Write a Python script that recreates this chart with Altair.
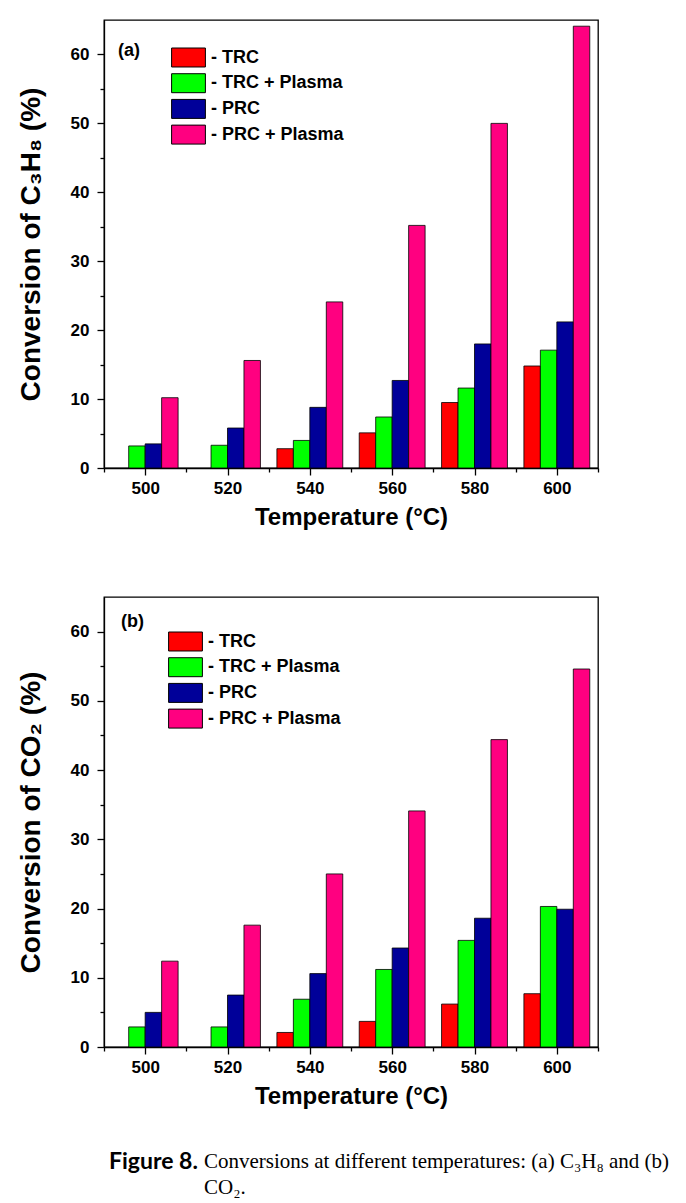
import altair as alt
import pandas as pd

temps = [500, 520, 540, 560, 580, 600]
series = ["TRC", "TRC + Plasma", "PRC", "PRC + Plasma"]
colors = ["#FF0000", "#00FF00", "#000099", "#FF0080"]

# (a) conversion of C3H8 (%)
c3h8_trc = [None, None, 2.8, 5.1, 9.5, 14.8]
c3h8_trc_plasma = [3.2, 3.3, 4.0, 7.4, 11.6, 17.1]
c3h8_prc = [3.5, 5.8, 8.8, 12.7, 18.0, 21.2]
c3h8_prc_plasma = [10.2, 15.6, 24.1, 35.2, 50.0, 64.1]

# (b) conversion of CO2 (%)
co2_trc = [None, None, 2.1, 3.7, 6.2, 7.7]
co2_trc_plasma = [2.9, 2.9, 6.9, 11.2, 15.4, 20.3]
co2_prc = [5.0, 7.5, 10.6, 14.3, 18.6, 19.9]
co2_prc_plasma = [12.4, 17.6, 25.0, 34.1, 44.4, 54.6]

y_ticks = [0, 5, 10, 15, 20, 25, 30, 35, 40, 45, 50, 55, 60]
x_ticks = [490, 500, 510, 520, 530, 540, 550, 560, 570, 580, 590, 600, 610]

caption_bold = "Figure 8."
caption_line1 = "Conversions at different temperatures: (a) C\u2083H\u2088 and (b)"
caption_line2 = "CO\u2082."

FONT = "Liberation Sans"


def make_df(cols):
    rows = []
    for s, vals in zip(series, cols):
        for t, v in zip(temps, vals):
            if v is not None:
                rows.append({"temp": t, "series": s, "value": v})
    return pd.DataFrame(rows)


df_a = make_df([c3h8_trc, c3h8_trc_plasma, c3h8_prc, c3h8_prc_plasma])
df_b = make_df([co2_trc, co2_trc_plasma, co2_prc, co2_prc_plasma])
temp_df = pd.DataFrame({"temp": temps})


def panel(df, ytitle, tag, tag_x, tag_y, leg_x, leg_y, height, caption=False):
    bars = alt.Chart(df).mark_bar(stroke="black", strokeWidth=0.8).encode(
        x=alt.X("temp:N", scale=alt.Scale(paddingInner=0, paddingOuter=0), axis=None),
        xOffset=alt.XOffset("series:N", sort=series,
                            scale=alt.Scale(domain=series, paddingInner=0, paddingOuter=0.5)),
        y=alt.Y("value:Q", scale=alt.Scale(domain=[0, 65], nice=False),
                axis=alt.Axis(values=y_ticks,
                              labelExpr="datum.value % 10 === 0 ? datum.label : ''",
                              tickSize=alt.condition("datum.value % 10 === 0", alt.value(7), alt.value(4)),
                              grid=False, title=ytitle, titlePadding=25, labelPadding=8,
                              titleFontSize=28)),
        color=alt.Color("series:N", sort=series,
                        scale=alt.Scale(domain=series, range=colors),
                        legend=alt.Legend(title=None, orient="none", legendX=leg_x, legendY=leg_y,
                                          symbolType="M-1.3,-0.73H1.3V0.73H-1.3Z", symbolSize=676,
                                          symbolStrokeColor="black", symbolStrokeWidth=1,
                                          symbolOpacity=1,
                                          labelFont=FONT, labelFontWeight="bold", labelFontSize=18,
                                          labelColor="black", labelExpr="'- ' + datum.label",
                                          labelOffset=9, rowPadding=0.7, padding=0)),
    )
    axis_layer = alt.Chart(temp_df).mark_point(opacity=0).encode(
        x=alt.X("temp:Q", scale=alt.Scale(domain=[490, 610], nice=False, zero=False),
                axis=alt.Axis(values=x_ticks, orient="bottom", grid=False,
                              labelExpr="datum.value % 20 === 0 ? datum.label : ''",
                              tickSize=alt.condition("datum.value % 20 === 0", alt.value(7), alt.value(4)),
                              title="Temperature (\u00b0C)", labelPadding=5, titlePadding=9,
                              titleFontSize=24)),
        y=alt.value(0),
    )
    tag_text = alt.Chart(pd.DataFrame({"t": [tag]})).mark_text(
        font=FONT, fontWeight="bold", fontSize=18, align="left", baseline="middle", color="black"
    ).encode(text="t:N", x=alt.value(tag_x), y=alt.value(tag_y))
    layers = [bars, axis_layer, tag_text]
    if caption:
        cap_bold = alt.Chart(pd.DataFrame({"t": [caption_bold]})).mark_text(
            font="Lato", fontWeight="bold", fontSize=23, align="left", baseline="middle", color="black"
        ).encode(text="t:N", x=alt.value(5), y=alt.value(height + 115))
        cap1 = alt.Chart(pd.DataFrame({"t": [caption_line1]})).mark_text(
            font="Liberation Serif", fontSize=21, align="left", baseline="middle", color="black"
        ).encode(text="t:N", x=alt.value(100), y=alt.value(height + 115))
        cap2 = alt.Chart(pd.DataFrame({"t": [caption_line2]})).mark_text(
            font="Liberation Serif", fontSize=21, align="left", baseline="middle", color="black"
        ).encode(text="t:N", x=alt.value(100), y=alt.value(height + 141))
        layers += [cap_bold, cap1, cap2]
    return alt.layer(*layers).resolve_scale(x="independent").properties(width=494, height=height)


pa = panel(df_a, "Conversion of C\u2083H\u2088 (%)", "(a)", 14, 31, 71, 24, 448)
pb = panel(df_b, "Conversion of CO\u2082 (%)", "(b)", 17, 25, 68, 31, 450, caption=True)

chart = alt.vconcat(pa, pb, spacing=63).resolve_legend(color="independent").configure(
    padding={"left": 8, "top": 8, "right": 5, "bottom": 2}, background="white"
).configure_view(stroke="black", strokeWidth=1.3).configure_axis(
    domainColor="black", domainWidth=1.3, tickColor="black", tickWidth=1.3,
    labelFont=FONT, labelFontWeight="bold", labelFontSize=17, labelColor="black",
    titleFont=FONT, titleFontWeight="bold", titleFontSize=22, titleColor="black"
)

chart.save("out.html", embed_options={"renderer": "svg", "actions": False})
